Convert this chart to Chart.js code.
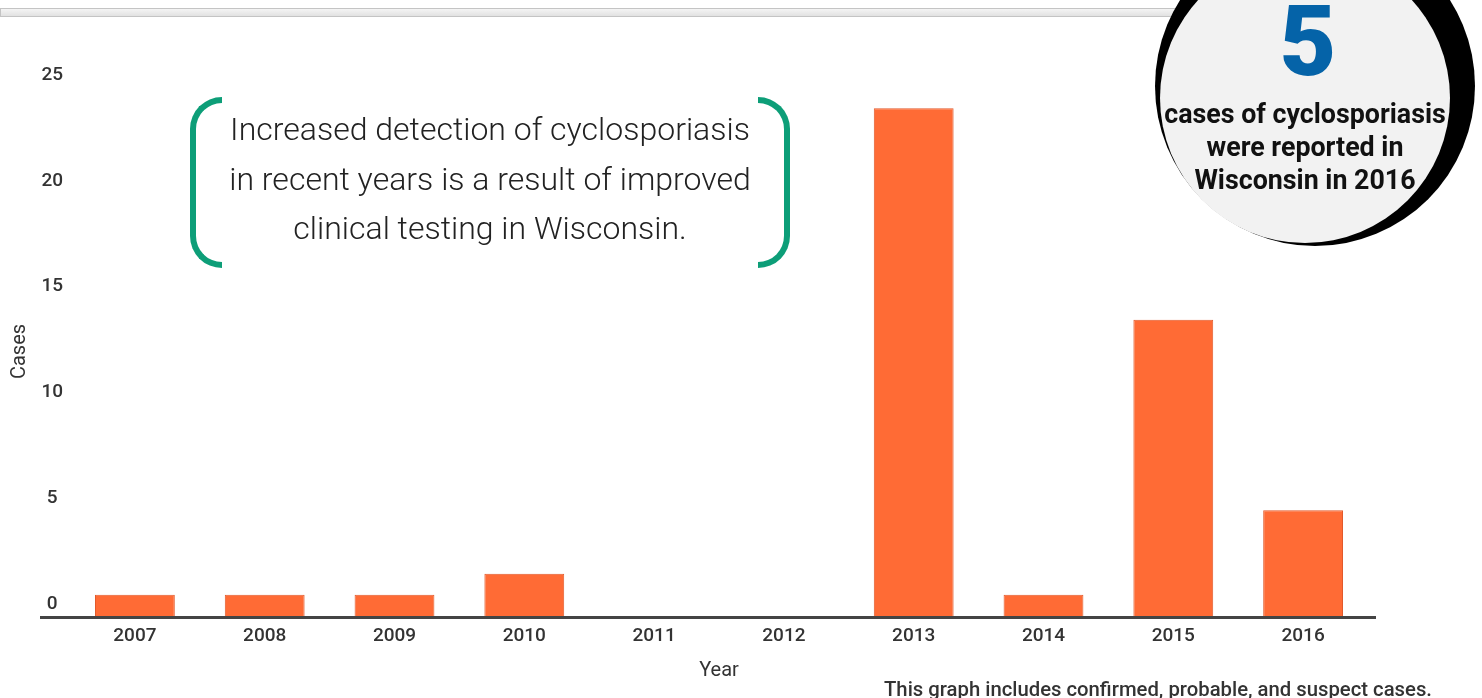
<!DOCTYPE html>
<html>
<head>
<meta charset="utf-8">
<script src="https://cdn.jsdelivr.net/npm/chart.js"></script>
<style>
  body { margin: 0; background: #fff; font-family: Roboto, sans-serif; }
  #wrap { position: relative; width: 1482px; height: 698px; overflow: hidden; }
  #chart { position: absolute; left: 0; top: 0; }
  .topbar { position: absolute; left: 0; top: 8px; width: 1190px; height: 7px;
    background: linear-gradient(#f4f4f4, #e2e2e2); border: 1px solid #c4c4c4; }
  .bracket { position: absolute; top: 97px; width: 26px; height: 159px; border: 6px solid #0d9e78; }
  .bracket.left { left: 190px; border-right: none; border-radius: 34px 0 0 34px; }
  .bracket.right { left: 758px; border-left: none; border-radius: 0 34px 34px 0; }
  .note { position: absolute; left: 190px; top: 105px; width: 600px; text-align: center;
    font-weight: 300; font-size: 32px; line-height: 49.5px; color: #222; }
  .blob-back { position: absolute; left: 1155px; top: -74px; width: 320px; height: 320px;
    border-radius: 50%; background: #000; }
  .blob { position: absolute; left: 1160px; top: -47px; width: 290px; height: 290px;
    border-radius: 50%; background: #f2f2f2; }
  .big { position: absolute; left: 1163px; width: 290px; top: -13px; text-align: center;
    font-weight: 900; font-size: 98px; line-height: 110px; color: #0563a8; }
  .blobtext { position: absolute; left: 1140px; width: 330px; top: 98px; text-align: center;
    font-weight: 700; font-size: 26.8px; line-height: 33px; color: #111; }
  .foot { position: absolute; left: 884px; top: 677px; font-weight: 500; font-size: 20.3px; color: #333;
    white-space: nowrap; }
</style>
</head>
<body>
<div id="wrap">
  <canvas id="chart" width="1482" height="698"></canvas>
  <div class="topbar"></div>
  <div class="bracket left"></div>
  <div class="bracket right"></div>
  <div class="note">Increased detection of cyclosporiasis<br>in recent years is a result of improved<br>clinical testing in Wisconsin.</div>
  <div class="blob-back"></div>
  <div class="blob"></div>
  <div class="big">5</div>
  <div class="blobtext">cases of cyclosporiasis<br>were reported in<br>Wisconsin in 2016</div>
  <div class="foot">This graph includes confirmed, probable, and suspect cases.</div>
</div>
<script>
const years = ["2007", "2008", "2009", "2010", "2011", "2012", "2013", "2014", "2015", "2016"];
const cases = [1, 1, 1, 2, 0, 0, 24, 1, 14, 5];
const yTicks = [0, 5, 10, 15, 20, 25];

// long dark baseline under the bars, wider than the plot area
const baseline = {
  id: "baseline",
  afterDatasetsDraw(chart) {
    const ctx = chart.ctx;
    const y0 = chart.scales.y.getPixelForValue(0);
    ctx.save();
    ctx.strokeStyle = "#444";
    ctx.lineWidth = 3;
    ctx.beginPath();
    ctx.moveTo(40, y0 + 1.5);
    ctx.lineTo(1376, y0 + 1.5);
    ctx.stroke();
    ctx.restore();
  },
};

const ctx = document.getElementById("chart").getContext("2d");
new Chart(ctx, {
  type: "bar",
  data: {
    labels: years,
    datasets: [
      {
        label: "Cases",
        data: cases,
        backgroundColor: "#ff6b35",
        borderColor: "#e25a2b",
        borderWidth: 1,
        categoryPercentage: 1,
        barPercentage: 0.615,
      },
    ],
  },
  options: {
    responsive: false,
    animation: false,
    layout: { padding: { left: 0, right: 114, top: 87, bottom: 11 } },
    plugins: { legend: { display: false }, tooltip: { enabled: false } },
    scales: {
      x: {
        grid: { display: false, drawTicks: false },
        border: { display: false },
        ticks: { color: "#333", padding: 9, font: { family: "Roboto", size: 19, weight: "500" } },
        title: { display: true, text: "Year", color: "#333", padding: { top: 0, bottom: 4 },
          font: { family: "Roboto", size: 20 } },
        afterFit: (s) => { s.height = 71; },
      },
      y: {
        min: 0,
        max: 25,
        afterBuildTicks: (s) => { s.ticks = yTicks.map((v) => ({ value: v })); },
        grid: { display: false, drawTicks: false },
        border: { display: false },
        ticks: { color: "#333", padding: 7, labelOffset: -12, crossAlign: "center",
          font: { family: "Roboto", size: 19, weight: "500" } },
        title: { display: true, text: "Cases", color: "#333", padding: { top: 8, bottom: 0 },
          font: { family: "Roboto", size: 20 } },
        afterFit: (s) => { s.width = 70; },
      },
    },
  },
  plugins: [baseline],
});
</script>
</body>
</html>
